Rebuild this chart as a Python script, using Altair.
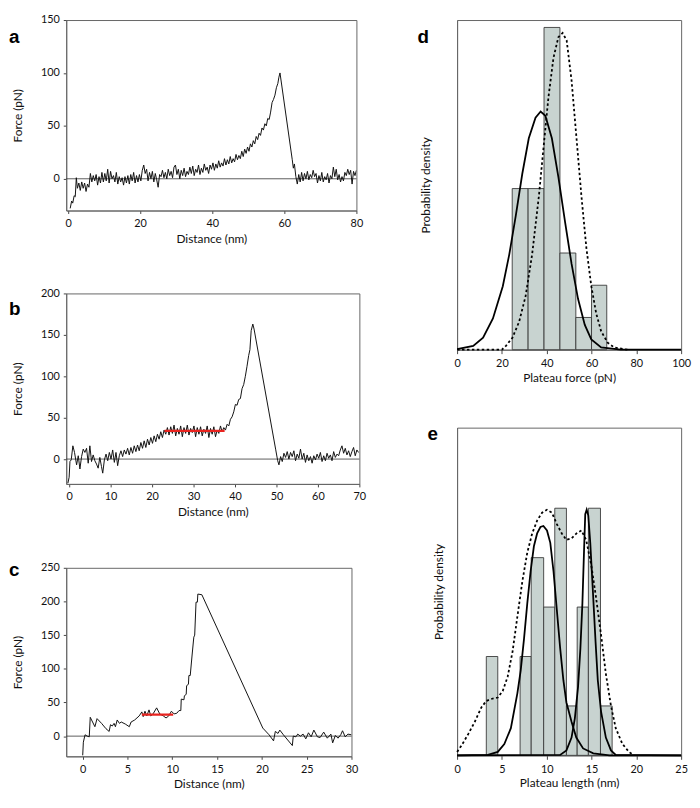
import altair as alt
import pandas as pd

FONT = "Lato"
LETTER_FONT = "Liberation Sans"

# ---------------- panel a : force-distance trace ----------------
A_DIST = [0.6, 1.0, 1.3, 1.7, 2.0, 2.3, 2.6, 3.0, 3.4, 3.8, 4.2, 4.6, 5.0, 5.4, 5.8, 6.2, 6.6, 7.0, 7.4, 7.8,
          8.2, 8.6, 9.0, 9.4, 9.8, 10.2, 10.6, 11.0, 11.4, 11.8, 12.2, 12.6, 13.0, 13.4, 13.8, 14.2, 14.6, 15.0,
          15.4, 15.8, 16.2, 16.6, 17.0, 17.4, 17.8, 18.2, 18.6, 19.0, 19.4, 19.8, 20.2, 20.6, 21.0, 21.4, 21.8,
          22.2, 22.6, 23.0, 23.4, 23.8, 24.2, 24.6, 25.0, 25.4, 25.8, 26.2, 26.6, 27.0, 27.4, 27.8, 28.2, 28.6,
          29.0, 29.4, 29.8, 30.2, 30.6, 31.0, 31.4, 31.8, 32.2, 32.6, 33.0, 33.4, 33.8, 34.2, 34.6, 35.0, 35.4,
          35.8, 36.2, 36.6, 37.0, 37.4, 37.8, 38.2, 38.6, 39.0, 39.4, 39.8, 40.2, 40.6, 41.0, 41.4, 41.8, 42.2,
          42.6, 43.0, 43.4, 43.8, 44.2, 44.6, 45.0, 45.4, 45.8, 46.2, 46.6, 47.0, 47.4, 47.8, 48.2, 48.6, 49.0,
          49.4, 49.8, 50.2, 50.6, 51.0, 51.4, 51.8, 52.2, 52.6, 53.0, 53.4, 53.8, 54.2, 54.6, 55.0, 55.4, 55.8,
          56.2, 56.6, 57.0, 57.4, 57.8, 58.2, 58.5, 58.8, 62.2, 62.5, 62.8, 63.2, 63.6, 64.0, 64.4, 64.8, 65.2,
          65.6, 66.0, 66.4, 66.8, 67.2, 67.6, 68.0, 68.4, 68.8, 69.2, 69.6, 70.0, 70.4, 70.8, 71.2, 71.6, 72.0,
          72.4, 72.8, 73.2, 73.6, 74.0, 74.4, 74.8, 75.2, 75.6, 76.0, 76.4, 76.8, 77.2, 77.6, 78.0, 78.4, 78.8,
          79.2, 79.6, 80.0]
A_FORCE = [-28, -21, -23, -16, -17, 1, -9, -4, -11, -3, -9, -4, -12, -5, -8, 5, -3, 3, -2, 4,
           -6, 2, -4, 6, -3, 5, -2, 9, -4, 7, 0, 3, -3, 6, -5, 2, -3, 1,
           -6, 2, -4, 3, -5, 4, -2, 6, -4, 3, -3, 4, -2, 8, 13, 5, 9,
           -2, 6, 0, 7, -3, 5, -1, -8, 4, 2, 8, 1, 6, 0, 9, 3, 7,
           1, 11, 13, 4, 9, 0, 8, 3, 10, 2, 7, 4, 11, 5, 12, 3, 9,
           6, 13, 4, 10, 6, 14, 8, 11, 5, 13, 9, 15, 8, 14, 10, 17, 11,
           15, 12, 19, 13, 18, 14, 21, 15, 19, 16, 23, 18, 22, 19, 26, 21, 28,
           24, 30, 26, 33, 30, 36, 33, 40, 37, 43, 41, 48, 46, 52, 50, 57, 56,
           63, 72, 75, 79, 86, 90, 96, 100, 18, 10, 14, 2, -5, 4, -3, 6, -2,
           5, 0, 7, -1, 4, 1, 8, 2, 5, -4, 3, -2, 6, -3, 2, -1, 5,
           -4, 3, 0, 11, 2, 9, -1, 4, -3, 2, -2, 6, 3, 9, 4, 8, -5,
           7, 3, 8]

# ---------------- panel b ----------------
B_DIST = [-0.3, 0.0, 0.2, 0.5, 0.9, 1.3, 1.8, 2.2, 2.6, 3.0, 3.4, 3.8, 4.2, 4.6, 5.0, 5.4, 5.8, 6.2, 6.6, 7.0,
          7.4, 7.8, 8.1, 8.5, 8.9, 9.3, 9.7, 10.1, 10.5, 10.9, 11.3, 11.7, 12.1, 12.5, 12.9, 13.3, 13.7, 14.1,
          14.5, 14.9, 15.3, 15.7, 16.1, 16.5, 16.9, 17.3, 17.7, 18.1, 18.5, 18.9, 19.3, 19.7, 20.1, 20.5, 20.9,
          21.3, 21.7, 22.1, 22.5, 22.9, 23.3, 23.7, 24.1, 24.5, 24.9, 25.3, 25.7, 26.1, 26.5, 26.9, 27.3, 27.7,
          28.1, 28.5, 28.9, 29.3, 29.7, 30.1, 30.5, 30.9, 31.3, 31.7, 32.1, 32.5, 32.9, 33.3, 33.7, 34.1, 34.5,
          34.9, 35.3, 35.7, 36.1, 36.5, 36.9, 37.3, 37.7, 38.1, 38.5, 38.9, 39.3, 39.7, 40.1, 40.5, 40.9, 41.3,
          41.7, 42.1, 42.5, 42.9, 43.3, 43.6, 43.9, 44.3, 44.6, 49.8, 50.3, 50.6, 51.0, 51.4, 51.8, 52.2, 52.6,
          53.0, 53.4, 53.8, 54.2, 54.6, 55.0, 55.4, 55.8, 56.2, 56.6, 57.0, 57.4, 57.8, 58.2, 58.6, 59.0, 59.4,
          59.8, 60.2, 60.6, 61.0, 61.4, 61.8, 62.2, 62.6, 63.0, 63.4, 63.8, 64.2, 64.6, 65.0, 65.4, 65.8, 66.2,
          66.6, 67.0, 67.4, 67.8, 68.2, 68.6, 69.0, 69.4, 69.8]
B_FORCE = [-29, -22, -3, -1, 16, 8, -7, 4, -12, 3, 12, 8, 13, -5, 16, -3, 5, -2, -6, -11,
           2, -9, -17, -1, 6, -2, 8, 0, 11, -4, 8, -8, 4, 10, 3, 11, 6, 13,
           5, 14, 7, 16, 9, 17, 10, 20, 13, 22, 14, 24, 17, 26, 19, 28, 21,
           30, 24, 33, 26, 35, 30, 38, 29, 39, 31, 41, 28, 37, 30, 40, 27, 38,
           31, 41, 29, 37, 32, 40, 27, 38, 30, 39, 28, 36, 31, 40, 26, 37, 30,
           39, 27, 35, 31, 40, 33, 38, 35, 42, 40, 48, 51, 57, 66, 65, 72, 73,
           85, 90, 100, 112, 125, 132, 155, 163, 157, 12, -2, -7, 3, -3, 7, 2, 9,
           0, 8, 3, 10, -2, 6, 1, 12, 0, 7, -4, 5, -2, 3, -5, 4, -1,
           6, 1, 8, -3, 4, -2, 7, 1, 5, -2, 9, 2, 6, 4, 11, 16, 7,
           13, 5, 10, 3, 9, 14, 4, 11, 8]
B_PLATEAU_DIST = [23.0, 37.5]
B_PLATEAU_FORCE = [34, 34]

# ---------------- panel c ----------------
C_DIST = [0.0, 0.07, 0.26, 0.5, 0.73, 0.84, 1.36, 1.6, 2.1, 2.6, 2.95, 3.1, 3.3, 3.5, 3.65, 3.85, 4.1, 4.3,
          4.75, 5.2, 5.4, 5.8, 6.3, 6.6, 6.75, 6.95, 7.15, 7.4, 7.6, 7.85, 8.25, 8.6, 9.0, 9.3, 9.6, 9.9,
          10.2, 10.5, 10.75, 10.95, 11.0, 11.3, 11.35, 11.55, 11.6, 11.8, 11.85, 12.0, 12.2, 12.4, 12.5,
          12.65, 12.8, 12.85, 13.3, 20.1, 20.8, 21.3, 21.5, 21.8, 22.0, 22.4, 23.4, 23.5, 23.8, 24.0, 24.3,
          24.6, 24.9, 25.2, 25.5, 25.8, 26.2, 26.5, 26.9, 27.3, 27.7, 27.9, 28.2, 28.5, 28.8, 29.0, 29.3,
          29.6, 30.0]
C_FORCE = [-28.5, -9, 2, 0, -1, 28, 14, 26, 19, 11, 7, 17, 15, 19, 14, 24, 19, 21,
           18, 14, 21, 24, 30, 36, 29, 37, 30, 39, 30, 33, 42, 33, 30, 27, 30, 37,
           33, 34, 38, 38, 55, 54, 60, 62, 75, 77, 90, 90, 119, 147, 150,
           199, 199, 211, 210, 12, 2, -7, 7, 4, 9, 2, -14, 0, -1, 3, 0,
           3, -4, 5, -1, 9, -1, -2, 6, -3, 3, -10, 1, -3, 2, 8, -1,
           3, 2]
C_PLATEAU_DIST = [6.6, 10.1]
C_PLATEAU_FORCE = [32, 32]

# ---------------- panel d : plateau force histogram ----------------
D_BIN_LO = [24.6, 31.7, 38.8, 45.9, 53.0, 60.0]
D_BIN_HI = [31.7, 38.8, 45.9, 53.0, 60.0, 66.8]
D_COUNT = [5, 5, 10, 3, 1, 2]
D_SOLID_X = [0, 7.2, 11.6, 16.0, 20.4, 23.3, 26.2, 29.1, 32.0, 35.0, 37.3, 39.4, 42.3, 45.2, 48.2, 51.1,
             54.0, 57.0, 59.9, 64.3, 73.0, 100]
D_SOLID_Y = [0.02, 0.12, 0.37, 0.97, 1.97, 2.96, 4.16, 5.46, 6.56, 7.2, 7.39, 7.26, 6.56, 5.36, 3.96, 2.66,
             1.57, 0.77, 0.32, 0.07, 0.0, 0.0]
D_DOT_X = [0, 20.0, 21.8, 24.7, 27.7, 30.6, 33.5, 36.5, 38.7, 40.8, 43.0, 45.2, 47.1, 48.9, 51.1, 53.3,
           55.5, 57.7, 59.9, 62.1, 64.3, 67.2, 70.1, 76.0]
D_DOT_Y = [0.0, 0.0, 0.12, 0.37, 0.87, 1.67, 2.96, 4.76, 6.36, 7.85, 9.05, 9.7, 9.83, 9.6, 8.35, 6.56,
           4.76, 3.16, 1.97, 1.12, 0.57, 0.22, 0.07, 0.0]

# ---------------- panel e : plateau length histogram ----------------
E_BIN_LO = [3.26, 7.03, 8.27, 9.66, 10.9, 12.2, 13.4, 14.65, 16.0]
E_BIN_HI = [4.54, 8.27, 9.66, 10.9, 12.2, 13.4, 14.65, 16.0, 17.3]
E_COUNT = [2, 2, 4, 3, 5, 1, 3, 5, 1]
E_SOLID1_X = [0, 3.44, 4.54, 5.27, 6.0, 6.73, 7.1, 7.47, 7.83, 8.2, 8.57, 8.93, 9.3, 9.63, 10.03, 10.4,
              10.76, 11.13, 11.5, 11.86, 12.2, 12.77, 13.3, 14.06, 15.2, 17.0, 25]
E_SOLID1_Y = [0.0, 0.01, 0.07, 0.23, 0.55, 1.26, 1.72, 2.36, 3.07, 3.72, 4.23, 4.49, 4.62, 4.64, 4.55, 4.3,
              3.72, 2.94, 2.17, 1.52, 1.07, 0.68, 0.36, 0.14, 0.04, 0.0, 0.0]
E_SOLID2_X = [0, 11.5, 12.2, 12.77, 13.14, 13.5, 13.76, 13.98, 14.17, 14.3, 14.46, 14.64, 14.86, 15.15,
              15.45, 15.7, 16.07, 16.6, 17.17, 17.7, 25]
E_SOLID2_Y = [0.0, 0.01, 0.1, 0.36, 0.75, 1.39, 2.17, 3.07, 4.17, 4.88, 4.97, 4.85, 4.3, 3.33,
              2.3, 1.52, 0.88, 0.36, 0.1, 0.01, 0.0]
E_DOT_X = [0, 0.5, 1.24, 1.98, 2.71, 3.26, 3.8, 4.54, 5.09, 5.64, 6.19, 6.73, 7.28, 7.83, 8.38, 8.93,
           9.48, 10.03, 10.58, 11.13, 11.68, 12.2, 12.77, 13.32, 13.87, 14.4, 14.97, 15.5, 16.07, 16.6,
           17.17, 17.7, 18.45, 19.18, 19.7]
E_DOT_Y = [0.07, 0.2, 0.43, 0.68, 0.97, 1.1, 1.14, 1.17, 1.3, 1.59, 2.1, 2.81, 3.52, 4.1, 4.49, 4.75,
           4.91, 4.97, 4.91, 4.68, 4.49, 4.36, 4.39, 4.49, 4.55, 4.36, 3.85, 3.2, 2.43, 1.65,
           1.0, 0.55, 0.23, 0.07, 0.0]


def letter_layer(letter, lx, ly):
    return alt.Chart(pd.DataFrame({"t": [letter]})).mark_text(
        align="left", baseline="alphabetic", font=LETTER_FONT, fontWeight="bold", fontSize=19, color="#000"
    ).encode(x=alt.value(lx), y=alt.value(ly), text="t:N")


def trace_panel(dist, force, xdom, xticks, ydom, yticks, w, h, letter, lx, ly, ytp,
                red_d=None, red_f=None):
    xs = alt.Scale(domain=xdom, nice=False, zero=False)
    ys = alt.Scale(domain=ydom, nice=False, zero=False)
    xax = alt.Axis(values=xticks, title="Distance (nm)", tickSize=3, labelPadding=4, titlePadding=5,
                   labelFlush=False)
    yax = alt.Axis(values=yticks, title="Force (pN)", tickSize=3, labelPadding=4, titlePadding=ytp,
                   labelFlush=False)
    X = alt.X("d:Q", scale=xs, axis=xax)
    Y = alt.Y("f:Q", scale=ys, axis=yax)
    df = pd.DataFrame({"d": dist, "f": force, "i": list(range(len(dist)))})
    zero = alt.Chart(pd.DataFrame({"f": [0]})).mark_rule(color="#333", strokeWidth=0.8).encode(y=Y)
    line = alt.Chart(df).mark_line(color="#111", strokeWidth=1.0, clip=True).encode(
        x=X, y=Y, order="i:Q")
    layers = [zero, line]
    if red_d is not None:
        rdf = pd.DataFrame({"d": red_d, "f": red_f})
        layers.append(alt.Chart(rdf).mark_line(color="#e8231f", strokeWidth=2.2).encode(x=X, y=Y))
    layers.append(letter_layer(letter, lx, ly))
    return alt.layer(*layers).properties(width=w, height=h)


def hist_panel(lo, hi, cnt, solids, dx, dy, xdom, xticks, ymax, w, h, xtitle, letter, lx, ly, ytp,
               extra_top=False):
    xs = alt.Scale(domain=xdom, nice=False, zero=False)
    ys = alt.Scale(domain=[0, ymax], nice=False, zero=False)
    xax = alt.Axis(values=xticks, title=xtitle, tickSize=4, labelPadding=4, titlePadding=4,
                   labelFlush=False)
    yax = alt.Axis(title="Probability density", labels=False, ticks=False, titlePadding=ytp)
    X = alt.X("x:Q", scale=xs, axis=xax)
    Y = alt.Y("y:Q", scale=ys, axis=yax)
    bdf = pd.DataFrame({"x": lo, "x2": hi, "y": cnt, "y0": [0] * len(cnt)})
    bars = alt.Chart(bdf).mark_rect(fill="#c8d3d0", stroke="#3a3a3a", strokeWidth=0.9).encode(
        x=X, x2="x2:Q", y=Y, y2="y0:Q")
    rows = []
    for gi, (sx, sy) in enumerate(solids):
        for i, (a, b) in enumerate(zip(sx, sy)):
            rows.append({"x": a, "y": b, "g": gi, "i": i})
    sdf = pd.DataFrame(rows)
    solid = alt.Chart(sdf).mark_line(color="#000", strokeWidth=1.8).encode(
        x=X, y=Y, detail="g:N", order="i:Q")
    ddf = pd.DataFrame({"x": dx, "y": dy, "i": list(range(len(dx)))})
    dotted = alt.Chart(ddf).mark_line(color="#000", strokeWidth=1.8, strokeDash=[2.5, 2.5]).encode(
        x=X, y=Y, order="i:Q")
    layers = [bars, solid, dotted, letter_layer(letter, lx, ly)]
    if extra_top:
        layers.append(alt.Chart(pd.DataFrame({"t": ["0"]})).mark_text(
            opacity=0, fontSize=11, baseline="middle").encode(x=alt.value(0), y=alt.value(0), text="t:N"))
    return alt.layer(*layers).properties(width=w, height=h)


pa = trace_panel(A_DIST, A_FORCE, [-0.5, 80], [0, 20, 40, 60, 80], [-30, 150], [0, 50, 100, 150],
                 294, 193, "a", -58, 23, 16)
pb = trace_panel(B_DIST, B_FORCE, [-0.7, 70], [0, 10, 20, 30, 40, 50, 60, 70], [-30, 200],
                 [0, 50, 100, 150, 200], 297, 193, "b", -58, 22, 16, B_PLATEAU_DIST, B_PLATEAU_FORCE)
pc = trace_panel(C_DIST, C_FORCE, [-1.84, 30], [0, 5, 10, 15, 20, 25, 30], [-30, 250],
                 [0, 50, 100, 150, 200, 250], 289, 191, "c", -58, 8, 16, C_PLATEAU_DIST, C_PLATEAU_FORCE)

pd_ = hist_panel(D_BIN_LO, D_BIN_HI, D_COUNT, [(D_SOLID_X, D_SOLID_Y)], D_DOT_X, D_DOT_Y,
                 [0, 100], [0, 20, 40, 60, 80, 100], 10.23, 227, 334, "Plateau force (pN)", "d", -40, 23, 25,
                 extra_top=True)
pe = hist_panel(E_BIN_LO, E_BIN_HI, E_COUNT, [(E_SOLID1_X, E_SOLID1_Y), (E_SOLID2_X, E_SOLID2_Y)],
                E_DOT_X, E_DOT_Y, [0, 25], [0, 5, 10, 15, 20, 25], 6.63, 227, 332, "Plateau length (nm)",
                "e", -30, 12, 12)

left = alt.vconcat(pa, pb, pc, spacing=42)
right = alt.vconcat(pd_, pe, spacing=40)

chart = alt.hconcat(left, right, spacing=51).properties(padding=0).configure_view(
    stroke="#666666", strokeWidth=1
).configure_axis(
    grid=False, domainColor="#666666", tickColor="#444", labelFont=FONT, titleFont=FONT,
    labelFontSize=11, titleFontSize=12, titleFontWeight="normal", labelColor="#111", titleColor="#111"
)

chart.save("out.html", embed_options={"renderer": "svg", "actions": False})
